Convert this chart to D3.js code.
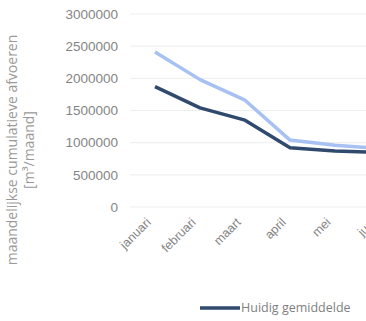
<!DOCTYPE html>
<html>
<head>
<meta charset="utf-8">
<script src="https://cdn.jsdelivr.net/npm/d3@7/dist/d3.min.js"></script>
<style>
  html, body { margin: 0; padding: 0; background: #fff; }
  svg { display: block; font-family: "Open Sans", "Liberation Sans", sans-serif; }
</style>
</head>
<body>
<svg id="chart" width="366" height="321"></svg>
<script>
// Monthly cumulative discharge, m³ per month
const months = ["januari", "februari", "maart", "april", "mei", "juni"];
const huidigGemiddelde = [1870000, 1540000, 1350000, 920000, 870000, 850000];
const scenario = [2410000, 1980000, 1660000, 1040000, 960000, 910000];
const yTicks = [0, 500000, 1000000, 1500000, 2000000, 2500000, 3000000];

const svg = d3.select("#chart");

const x = d3.scalePoint().domain(months).range([155, 380]);
const y = d3.scaleLinear().domain([0, 3000000]).range([207, 14]);

// horizontal gridlines
svg.append("g")
  .selectAll("line")
  .data(yTicks)
  .join("line")
  .attr("x1", 130).attr("x2", 366)
  .attr("y1", d => y(d)).attr("y2", d => y(d))
  .attr("stroke", "#ededed").attr("stroke-width", 1);

// y axis tick labels
const yAxis = svg.append("g")
  .attr("transform", "translate(118,0)")
  .call(d3.axisLeft(y).tickValues(yTicks).tickFormat(d3.format("d")).tickSize(0).tickPadding(0));
yAxis.select(".domain").remove();
yAxis.selectAll("text")
  .attr("fill", "#858585")
  .style("font-size", "13.5px");

// x axis labels, rotated
const xAxis = svg.append("g")
  .attr("transform", "translate(0,218)")
  .call(d3.axisBottom(x).tickSize(0).tickPadding(0));
xAxis.select(".domain").remove();
xAxis.selectAll("text")
  .attr("fill", "#858585")
  .style("font-size", "12.5px")
  .attr("text-anchor", "end")
  .attr("dy", "0.35em")
  .attr("transform", "translate(-7,2) rotate(-45)");

// series lines
const line = d3.line()
  .x((d, i) => x(months[i]))
  .y(d => y(d));

svg.append("path")
  .datum(scenario)
  .attr("d", line)
  .attr("fill", "none")
  .attr("stroke", "#a6c1f2")
  .attr("stroke-width", 3.5)
  .attr("stroke-linejoin", "round");

svg.append("path")
  .datum(huidigGemiddelde)
  .attr("d", line)
  .attr("fill", "none")
  .attr("stroke", "#2f4a6d")
  .attr("stroke-width", 3.5)
  .attr("stroke-linejoin", "round");

// y axis title
const title = svg.append("text")
  .attr("transform", "translate(0,150) rotate(-90)")
  .attr("text-anchor", "middle")
  .attr("fill", "#9a9a9a")
  .style("font-size", "14px");
title.append("tspan").attr("x", 0).attr("y", 17).text("maandelijkse cumulatieve afvoeren");
title.append("tspan").attr("x", 0).attr("y", 34).text("[m³/maand]");

// legend
const legend = svg.append("g").attr("transform", "translate(200,308)");
legend.append("line")
  .attr("x1", 0).attr("x2", 40)
  .attr("stroke", "#2f4a6d").attr("stroke-width", 3.5);
legend.append("text")
  .attr("x", 41).attr("dy", "0.35em")
  .attr("fill", "#7f7f7f")
  .style("font-size", "12.5px")
  .text("Huidig gemiddelde");
</script>
</body>
</html>
